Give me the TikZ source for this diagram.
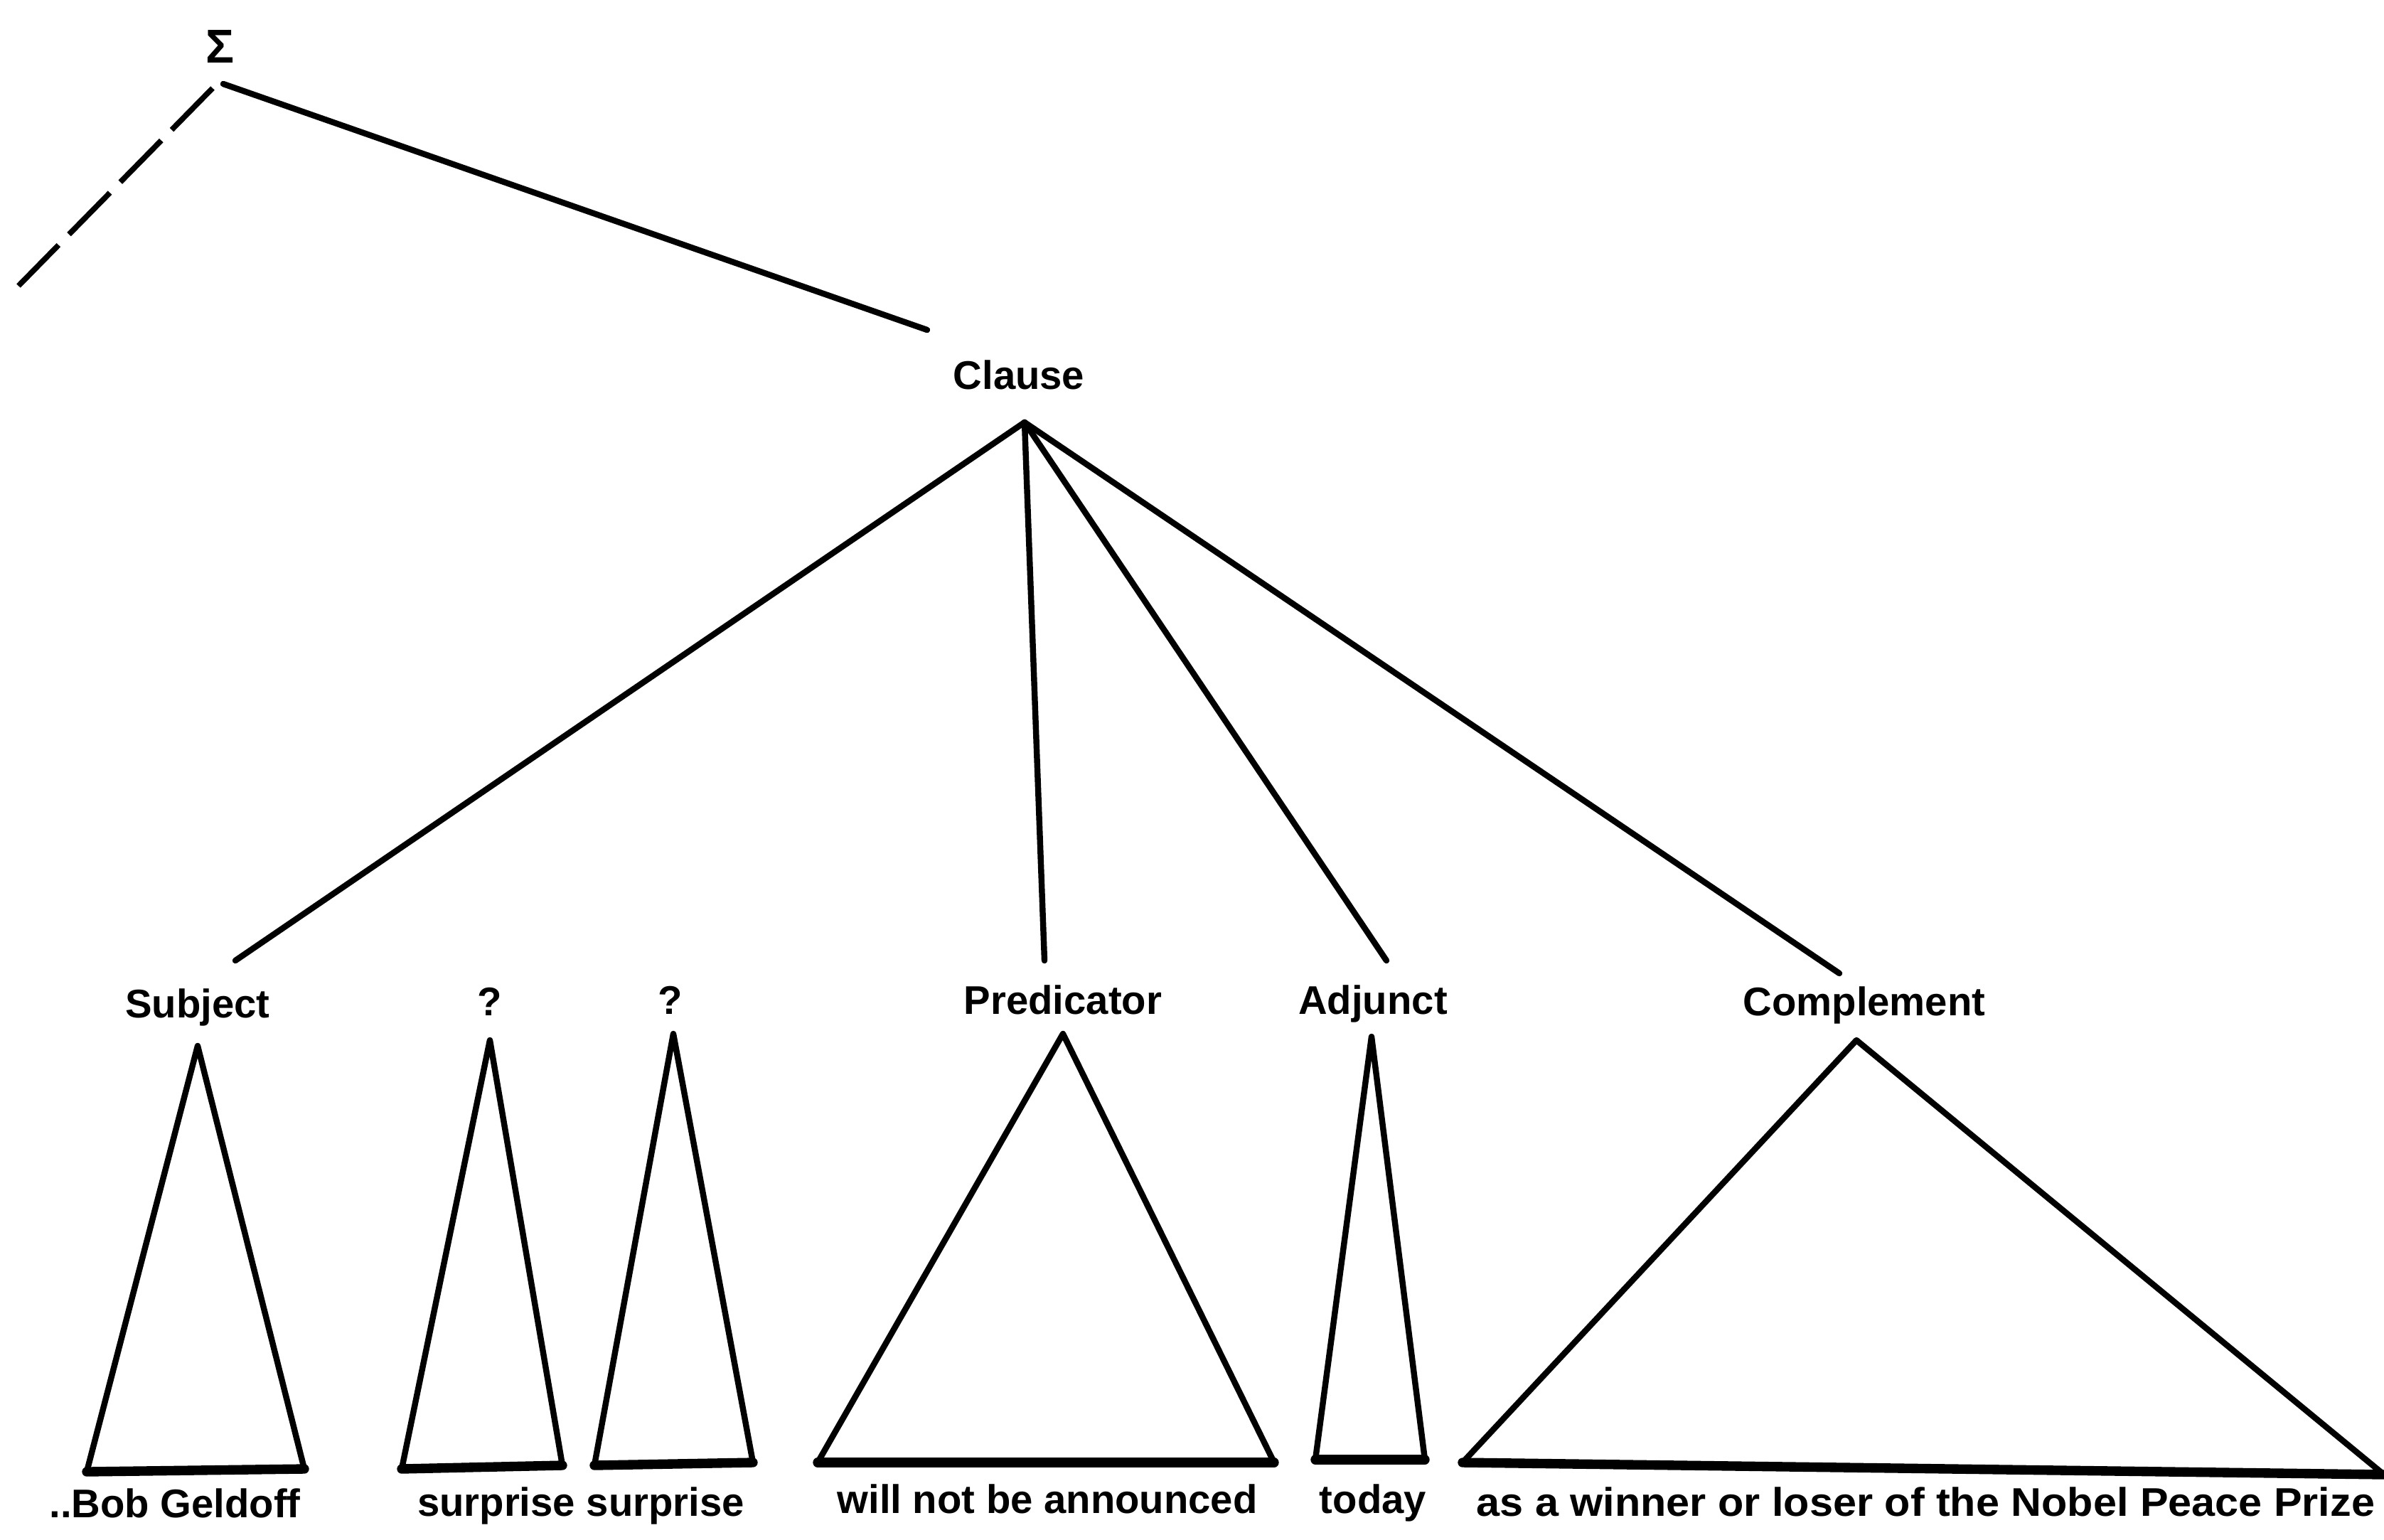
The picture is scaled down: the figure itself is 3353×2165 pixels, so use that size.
\documentclass[tikz,border=0pt]{standalone}
\usepackage{fontspec}
\setmainfont{Liberation Sans}
\begin{document}
\begin{tikzpicture}[x=0.01cm,y=-0.01cm,
  edge/.style={line width=2.4pt, line cap=round},
  dashedge/.style={line width=2.2pt, dash pattern=on 0.82cm off 0.21cm},
  tri/.style={line width=2.4pt, line join=round},
  base/.style={line width=3.8pt, line cap=round},
  lab/.style={font=\fontsize{16}{19}\selectfont\bfseries, inner sep=0pt, anchor=base}]
\useasboundingbox (0,0) rectangle (3353,2165);

% labels
\node[lab, font=\fontsize{19}{22}\selectfont\bfseries] (sig) at (310,88) {Σ};
\node[lab] (clause) at (1433,547) {Clause};
\node[lab] (subj) at (278,1431) {Subject};
\node[lab] (q1) at (689,1428) {?};
\node[lab] (q2) at (943,1426) {?};
\node[lab] (pred) at (1495,1426) {Predicator};
\node[lab] (adj) at (1931,1426) {Adjunct};
\node[lab] (comp) at (2622,1428) {Complement};

\node[lab] (l1) at (246,2134) {..Bob Geldoff};
\node[lab] (l2) at (817,2132) {surprise surprise};
\node[lab] (l3) at (1473,2128) {will not be announced};
\node[lab] (l4) at (1931,2128) {today};
\node[lab, anchor=base west] (l5) at (2076,2132) {\scalebox{1.055}[1]{as a winner or loser of the Nobel Peace Prize}};

% connector end points
\coordinate (sigfoot) at (314,118);
\coordinate (sigdash) at (299,124);
\coordinate (dashend) at (26,402);
\coordinate (clhead) at (1304,464);
\coordinate (clA) at (1441,594);
\coordinate (subjT) at (331,1351);
\coordinate (predT) at (1469,1351);
\coordinate (adjT) at (1950,1351);
\coordinate (compT) at (2587,1369);

\draw[edge] (sigfoot) -- (clhead);
\draw[dashedge] (sigdash) -- (dashend);
\draw[edge] (clA) -- (subjT);
\draw[edge] (clA) -- (predT);
\draw[edge] (clA) -- (adjT);
\draw[edge] (clA) -- (compT);

% triangles
\coordinate (t1A) at (278,1471); \coordinate (t1L) at (122,2070); \coordinate (t1R) at (428,2066);
\coordinate (t2A) at (689,1463); \coordinate (t2L) at (565,2066); \coordinate (t2R) at (791,2061);
\coordinate (t3A) at (947,1454); \coordinate (t3L) at (836,2061); \coordinate (t3R) at (1059,2057);
\coordinate (t4A) at (1495,1454); \coordinate (t4L) at (1150,2057); \coordinate (t4R) at (1792,2057);
\coordinate (t5A) at (1929,1458); \coordinate (t5L) at (1850,2053); \coordinate (t5R) at (2004,2053);
\coordinate (t6A) at (2611,1463); \coordinate (t6L) at (2057,2057); \coordinate (t6R) at (3353,2074);

\foreach \t in {t1,t2,t3,t4,t5,t6}{
  \draw[tri] (\t A) -- (\t L) -- (\t R) -- cycle;
  \draw[base] (\t L) -- (\t R);
}
\end{tikzpicture}
\end{document}
